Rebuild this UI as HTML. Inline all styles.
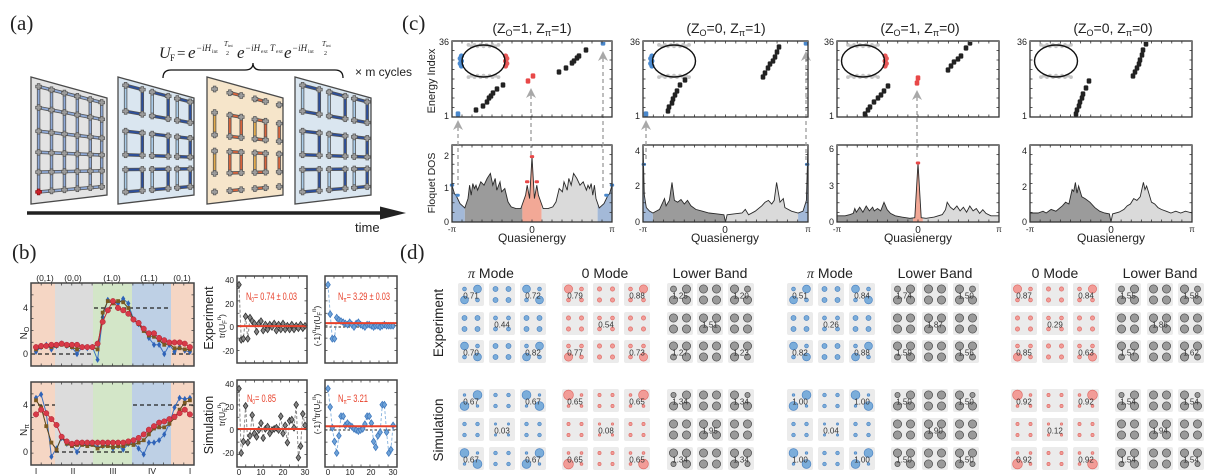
<!DOCTYPE html>
<html><head><meta charset="utf-8">
<style>
html,body{margin:0;padding:0;background:#fff;width:1208px;height:475px;overflow:hidden;}
svg{display:block;}
text{font-family:"Liberation Sans",sans-serif;fill:#222;}
.sf{font-family:"Liberation Serif",serif;}
.it{font-style:italic;}
.red{fill:#e8422c;}
.dn text{font-size:8px;text-anchor:middle;fill:#333;}
</style></head>
<body>
<svg id="s" width="1208" height="475" viewBox="0 0 1208 475" xmlns="http://www.w3.org/2000/svg">
<rect x="0" y="0" width="1208" height="475" fill="#fff"/>
<g id="shapes"></g>

<!-- panel labels -->
<text x="10" y="30" class="sf" font-size="21">(a)</text>
<text x="12" y="259" class="sf" font-size="21">(b)</text>
<text x="402" y="30" class="sf" font-size="21">(c)</text>
<text x="400" y="259" class="sf" font-size="21">(d)</text>

<!-- formula -->
<g class="sf">
<text x="159" y="58" class="sf it" font-size="16">U</text>
<text x="170" y="61" class="sf" font-size="9">F</text>
<text x="177" y="58" class="sf" font-size="15">=</text>
<text x="188" y="58" class="sf it" font-size="17">e</text>
<text x="196" y="51" class="sf it" font-size="9">−iH</text>
<text x="212" y="53" class="sf" font-size="5.5">int</text>
<text x="224" y="46" class="sf it" font-size="7">T</text>
<text x="228" y="47" class="sf" font-size="4.5">int</text>
<text x="226" y="55" class="sf" font-size="6">2</text>
<text x="237" y="58" class="sf it" font-size="17">e</text>
<text x="245" y="51" class="sf it" font-size="9">−iH</text>
<text x="261" y="53" class="sf" font-size="5.5">ext</text>
<text x="270" y="51" class="sf it" font-size="9">T</text>
<text x="276" y="53" class="sf" font-size="5.5">ext</text>
<text x="284" y="58" class="sf it" font-size="17">e</text>
<text x="292" y="51" class="sf it" font-size="9">−iH</text>
<text x="308" y="53" class="sf" font-size="5.5">int</text>
<text x="322" y="46" class="sf it" font-size="7">T</text>
<text x="326" y="47" class="sf" font-size="4.5">int</text>
<text x="324" y="55" class="sf" font-size="6">2</text>
</g>
<text x="355" y="76" font-size="12">× m cycles</text>
<text x="355" y="232" font-size="13">time</text>

<!-- panel b text -->
<g font-size="8.5" text-anchor="middle">
<text x="45" y="281">(0,1)</text><text x="73" y="281">(0,0)</text><text x="112" y="281">(1,0)</text><text x="149" y="281">(1,1)</text><text x="182" y="281">(0,1)</text>
<text x="36" y="474">I</text><text x="73" y="474">II</text><text x="113" y="474">III</text><text x="152" y="474">IV</text><text x="190" y="474">I</text>
</g>
<g font-size="9" text-anchor="end">
<text x="28" y="311">4</text><text x="28" y="357">0</text>
<text x="28" y="408">4</text><text x="28" y="455">0</text>
</g>
<text transform="translate(27,333) rotate(-90)" font-size="10" text-anchor="middle">N<tspan font-size="7" dy="2">O</tspan></text>
<text transform="translate(27,430) rotate(-90)" font-size="10" text-anchor="middle">N<tspan font-size="7" dy="2">π</tspan></text>

<g font-size="8" text-anchor="end">
<text x="234" y="283">40</text><text x="234" y="307">20</text><text x="234" y="330">0</text><text x="234" y="354">-20</text>
<text x="234" y="387">40</text><text x="234" y="410">20</text><text x="234" y="433">0</text><text x="234" y="456">-20</text>
</g>
<g font-size="8" text-anchor="middle">
<text x="239" y="475">0</text><text x="261" y="475">10</text><text x="283" y="475">20</text><text x="305" y="475">30</text>
<text x="328" y="475">0</text><text x="350" y="475">10</text><text x="371" y="475">20</text><text x="393" y="475">30</text>
</g>
<text transform="translate(213,318) rotate(-90)" font-size="12.5" text-anchor="middle">Experiment</text>
<text transform="translate(213,425) rotate(-90)" font-size="12.5" text-anchor="middle">Simulation</text>
<text transform="translate(225,326) rotate(-90)" font-size="8.5" text-anchor="middle">tr(U<tspan font-size="6" dy="2">F</tspan><tspan font-size="6" dy="-6">n</tspan><tspan dy="4">)</tspan></text>
<text transform="translate(225,414) rotate(-90)" font-size="8.5" text-anchor="middle">tr(U<tspan font-size="6" dy="2">F</tspan><tspan font-size="6" dy="-6">n</tspan><tspan dy="4">)</tspan></text>
<text transform="translate(320,326) rotate(-90)" font-size="8.5" text-anchor="middle">(-1)<tspan font-size="6" dy="-4">n</tspan><tspan dy="4">tr(U</tspan><tspan font-size="6" dy="2">F</tspan><tspan font-size="6" dy="-6">n</tspan><tspan dy="4">)</tspan></text>
<text transform="translate(320,414) rotate(-90)" font-size="8.5" text-anchor="middle">(-1)<tspan font-size="6" dy="-4">n</tspan><tspan dy="4">tr(U</tspan><tspan font-size="6" dy="2">F</tspan><tspan font-size="6" dy="-6">n</tspan><tspan dy="4">)</tspan></text>

<text x="246" y="300" font-size="11" class="red" textLength="51" lengthAdjust="spacingAndGlyphs">N<tspan font-size="7" dy="2">0</tspan><tspan dy="-2">= 0.74 ± 0.03</tspan></text>
<text x="338" y="300" font-size="11" class="red" textLength="52" lengthAdjust="spacingAndGlyphs">N<tspan font-size="7" dy="2">π</tspan><tspan dy="-2">= 3.29 ± 0.03</tspan></text>
<text x="247" y="402" font-size="11" class="red" textLength="29" lengthAdjust="spacingAndGlyphs">N<tspan font-size="7" dy="2">0</tspan><tspan dy="-2">= 0.85</tspan></text>
<text x="338" y="402" font-size="11" class="red" textLength="30" lengthAdjust="spacingAndGlyphs">N<tspan font-size="7" dy="2">π</tspan><tspan dy="-2">= 3.21</tspan></text>

<!-- panel c text -->
<g font-size="14" text-anchor="middle">
<text x="532" y="33">(Z<tspan font-size="9" dy="3">O</tspan><tspan dy="-3">=1, Z</tspan><tspan font-size="9" dy="3">π</tspan><tspan dy="-3">=1)</tspan></text>
<text x="726" y="33">(Z<tspan font-size="9" dy="3">O</tspan><tspan dy="-3">=0, Z</tspan><tspan font-size="9" dy="3">π</tspan><tspan dy="-3">=1)</tspan></text>
<text x="920" y="33">(Z<tspan font-size="9" dy="3">O</tspan><tspan dy="-3">=1, Z</tspan><tspan font-size="9" dy="3">π</tspan><tspan dy="-3">=0)</tspan></text>
<text x="1113" y="33">(Z<tspan font-size="9" dy="3">O</tspan><tspan dy="-3">=0, Z</tspan><tspan font-size="9" dy="3">π</tspan><tspan dy="-3">=0)</tspan></text>
</g>
<g font-size="9" text-anchor="end">
<text x="449" y="45">36</text><text x="449" y="119">1</text>
<text x="640" y="45">36</text><text x="640" y="119">1</text>
<text x="834" y="45">36</text><text x="834" y="119">1</text>
<text x="1027" y="45">36</text><text x="1027" y="119">1</text>
<text x="449" y="159">2</text><text x="449" y="191">1</text><text x="449" y="225">0</text>
<text x="640" y="154">4</text><text x="640" y="189">2</text><text x="640" y="225">0</text>
<text x="834" y="152">6</text><text x="834" y="189">3</text><text x="834" y="225">0</text>
<text x="1027" y="154">4</text><text x="1027" y="190">2</text><text x="1027" y="225">0</text>
</g>
<g font-size="8" text-anchor="middle">
<text x="452" y="232">-π</text><text x="532" y="233" font-size="10">0</text><text x="612" y="232">π</text>
<text x="643" y="232">-π</text><text x="725" y="233" font-size="10">0</text><text x="808" y="232">π</text>
<text x="837" y="232">-π</text><text x="918" y="233" font-size="10">0</text><text x="999" y="232">π</text>
<text x="1030" y="232">-π</text><text x="1111" y="233" font-size="10">0</text><text x="1192" y="232">π</text>
</g>
<g font-size="12" text-anchor="middle">
<text x="532" y="242">Quasienergy</text><text x="725" y="242">Quasienergy</text><text x="918" y="242">Quasienergy</text><text x="1111" y="242">Quasienergy</text>
</g>
<text transform="translate(435,81) rotate(-90)" font-size="11" text-anchor="middle">Energy Index</text>
<text transform="translate(435,183) rotate(-90)" font-size="10.5" text-anchor="middle">Floquet DOS</text>

<!-- panel d text -->
<g font-size="14" text-anchor="middle">
<text x="491" y="278"><tspan class="sf it">π</tspan> Mode</text>
<text x="605" y="278">0 Mode</text>
<text x="710" y="278">Lower Band</text>
<text x="830" y="278"><tspan class="sf it">π</tspan> Mode</text>
<text x="935" y="278">Lower Band</text>
<text x="1055" y="278">0 Mode</text>
<text x="1160" y="278">Lower Band</text>
</g>
<text transform="translate(443,323) rotate(-90)" font-size="13.5" text-anchor="middle">Experiment</text>
<text transform="translate(443,430) rotate(-90)" font-size="13.5" text-anchor="middle">Simulation</text>

<g class="dn">
<text x="471" y="298.5">0.71</text><text x="533" y="298.5">0.72</text><text x="502" y="327.5">0.44</text><text x="471" y="355.5">0.70</text><text x="533" y="355.5">0.82</text>
<text x="471" y="404.5">0.67</text><text x="533" y="404.5">0.67</text><text x="502" y="433.5">0.03</text><text x="471" y="462.5">0.67</text><text x="533" y="462.5">0.67</text>
<text x="575" y="298.5">0.79</text><text x="637" y="298.5">0.88</text><text x="606" y="327.5">0.54</text><text x="575" y="355.5">0.77</text><text x="637" y="355.5">0.73</text>
<text x="575" y="404.5">0.65</text><text x="637" y="404.5">0.65</text><text x="606" y="433.5">0.08</text><text x="575" y="462.5">0.65</text><text x="637" y="462.5">0.65</text>
<text x="680" y="298.5">1.25</text><text x="741" y="298.5">1.20</text><text x="710" y="327.5">1.51</text><text x="680" y="355.5">1.27</text><text x="741" y="355.5">1.23</text>
<text x="680" y="404.5">1.34</text><text x="741" y="404.5">1.34</text><text x="710" y="433.5">1.95</text><text x="680" y="462.5">1.34</text><text x="741" y="462.5">1.34</text>
<text x="800" y="298.5">0.51</text><text x="862" y="298.5">0.84</text><text x="831" y="327.5">0.26</text><text x="800" y="355.5">0.82</text><text x="862" y="355.5">0.88</text>
<text x="800" y="404.5">1.00</text><text x="862" y="404.5">1.00</text><text x="831" y="433.5">0.04</text><text x="800" y="462.5">1.00</text><text x="862" y="462.5">1.00</text>
<text x="904" y="298.5">1.74</text><text x="966" y="298.5">1.50</text><text x="935" y="327.5">1.87</text><text x="904" y="355.5">1.59</text><text x="966" y="355.5">1.56</text>
<text x="904" y="404.5">1.50</text><text x="966" y="404.5">1.50</text><text x="935" y="433.5">1.90</text><text x="904" y="462.5">1.50</text><text x="966" y="462.5">1.50</text>
<text x="1024" y="298.5">0.87</text><text x="1086" y="298.5">0.84</text><text x="1055" y="327.5">0.29</text><text x="1024" y="355.5">0.85</text><text x="1086" y="355.5">0.63</text>
<text x="1024" y="404.5">0.92</text><text x="1086" y="404.5">0.92</text><text x="1055" y="433.5">0.12</text><text x="1024" y="462.5">0.92</text><text x="1086" y="462.5">0.92</text>
<text x="1128" y="298.5">1.55</text><text x="1191" y="298.5">1.58</text><text x="1160" y="327.5">1.86</text><text x="1128" y="355.5">1.57</text><text x="1191" y="355.5">1.62</text>
<text x="1128" y="404.5">1.54</text><text x="1191" y="404.5">1.54</text><text x="1160" y="433.5">1.94</text><text x="1128" y="462.5">1.54</text><text x="1191" y="462.5">1.54</text>
</g>
</svg>
<script>
(function(){
const NS='http://www.w3.org/2000/svg';
const root=document.getElementById('shapes');
function el(t,a,p){const e=document.createElementNS(NS,t);for(const k in a)e.setAttribute(k,a[k]);(p||root).appendChild(e);return e;}
function L(x1,y1,x2,y2,s,w,o){const a={x1:x1,y1:y1,x2:x2,y2:y2,stroke:s,'stroke-width':w};if(o)for(const k in o)a[k]=o[k];return el('line',a);}
function R(x,y,w,h,f,o){const a={x:x,y:y,width:w,height:h,fill:f};if(o)for(const k in o)a[k]=o[k];return el('rect',a);}
function C(cx,cy,r,f,o){const a={cx:cx,cy:cy,r:r,fill:f};if(o)for(const k in o)a[k]=o[k];return el('circle',a);}
function pts(p){return p.map(q=>q[0].toFixed(1)+','+q[1].toFixed(1)).join(' ');}
function poly(p,o){const a={points:pts(p)};for(const k in o)a[k]=o[k];return el('polygon',a);}
function pl(p,o){const a={points:pts(p),fill:'none'};for(const k in o)a[k]=o[k];return el('polyline',a);}

/* ---------- panel (a) ---------- */
const quads=[{x:31,bg:'#e3e3e3',t:0},{x:118,bg:'#dae6f0',t:1},{x:207,bg:'#f6e5ca',t:2},{x:295,bg:'#dae6f0',t:1}];
const UV={0:[[.1,.27,.44,.61,.78,.93],[.06,.23,.42,.59,.75,.91]],1:[[.1,.32,.45,.66,.78,.95],[.05,.26,.42,.61,.73,.91]],2:[[.1,.3,.45,.63,.77,.95],[.08,.27,.45,.58,.76,.91]]};
quads.forEach(q=>{
  const m=(u,v)=>{const x=q.x+u*76,yt=77+u*21,yb=204-u*9;return [x,yt+v*(yb-yt)];};
  poly([m(0,0),m(1,0),m(1,1),m(0,1)],{fill:q.bg,stroke:'#4a4a4a','stroke-width':1.3});
  const us=UV[q.t][0],vs=UV[q.t][1];
  const site=(i,j)=>m(us[i],vs[j]);
  const edges=[];
  if(q.t==0){for(let j=0;j<6;j++)for(let i=0;i<5;i++)edges.push([i,j,i+1,j,'#8fa9d6']);for(let i=0;i<6;i++)for(let j=0;j<5;j++)edges.push([i,j,i,j+1,'#8fa9d6']);}
  if(q.t==1){for(const i of [0,2,4])for(let j=0;j<6;j++)edges.push([i,j,i+1,j,'#2c4f9c']);for(const j of [0,2,4])for(let i=0;i<6;i++)edges.push([i,j,i,j+1,(i%2==0)?'#a9cbe8':'#2c4f9c']);}
  if(q.t==2){for(const i of [1,3])for(let j=0;j<6;j++)edges.push([i,j,i+1,j,'#d8643c']);for(const j of [1,3])for(let i=0;i<6;i++)edges.push([i,j,i,j+1,(i==0||i==3)?'#e2aa4c':'#d8643c']);}
  edges.forEach(e=>{const a=site(e[0],e[1]),b=site(e[2],e[3]);L(a[0],a[1],b[0],b[1],'#555',3.4);L(a[0],a[1],b[0],b[1],e[4],1.8);});
  for(let i=0;i<6;i++)for(let j=0;j<6;j++){const s=site(i,j),x=s[0],y=s[1];const red=(q.t==0&&i==0&&j==5);const c=red?'#c8202a':'#9c9c9c';
    L(x-3.3,y,x+3.3,y,red?'#8a1010':'#555',3.4);L(x,y-3.3,x,y+3.3,red?'#8a1010':'#555',3.4);L(x-2.6,y,x+2.6,y,c,2);L(x,y-2.6,x,y+2.6,c,2);}
});
L(27,213,384,213,'#222',3.5);
poly([[380,206.5],[406,213],[380,219.5]],{fill:'#222'});
el('path',{d:'M163,78 Q163,70 171,70 L245,70 Q253,70 253,63 Q253,70 261,70 L335,70 Q343,70 343,78',fill:'none',stroke:'#111','stroke-width':1.3});

/* ---------- panel (b) large plots ---------- */
function bandPlot(y0,y1){
  const bands=[[31,55,'#f5d6c4'],[55,93,'#dcdcdc'],[93,132,'#d3e6c8'],[132,171,'#bed0e5'],[171,194,'#f5d6c4']];
  bands.forEach(b=>R(b[0],y0,b[1]-b[0],y1-y0,b[2]));
}
function frameB(y0,y1){
  R(31,y0,163,y1-y0,'none',{stroke:'#444','stroke-width':1.5});
  for(let k=1;k<16;k++){const x=31+k*163/16;L(x,y1,x,y1-2.5,'#444',0.8);L(x,y0,x,y0+2.5,'#444',0.8);}
  for(let k=1;k<7;k++){const y=y0+k*(y1-y0)/7;L(31,y,33.5,y,'#444',0.8);L(194,y,191.5,y,'#444',0.8);}
}
bandPlot(283,366);bandPlot(382,465);
const YT=v=>354-v*11.5, YB=v=>452-v*11.75;
const dash={'stroke-dasharray':'4,3'};
L(31,YT(0),93,YT(0),'#222',1.3,dash);L(94,YT(4),168,YT(4),'#222',1.3,dash);L(172,YT(0),194,YT(0),'#222',1.3,dash);
L(31,YB(4),55,YB(4),'#222',1.3,dash);L(55,YB(0),129,YB(0),'#222',1.3,dash);L(133,YB(4),194,YB(4),'#222',1.3,dash);
const xs=i=>36+i*5.13;
function series(data,Y,fill,lc,mk){
  const p=data.map((v,i)=>[xs(i),Y(v)]);
  pl(p,{stroke:lc,'stroke-width':1});
  p.forEach(q=>{
    if(mk=='c')C(q[0],q[1],2.7,fill,{stroke:'#a82030','stroke-width':0.5});
    else if(mk=='d')poly([[q[0],q[1]-3.2],[q[0]+2.1,q[1]],[q[0],q[1]+3.2],[q[0]-2.1,q[1]]],{fill:fill});
    else R(q[0]-1.9,q[1]-1.9,3.8,3.8,fill);
  });
}
const topBlue=[0.2,0.6,0.8,0.4,0.7,0.9,0.7,0.6,0.0,0.6,0.5,0.6,-0.5,3.2,4.7,4.5,4.4,4.8,4.4,3.0,2.6,2.2,1.4,0.8,0.8,0.0,0.8,0.2,0.6,0.3,0.2];
const topBr=[0.4,0.6,0.7,0.6,0.7,0.8,0.7,0.6,0.4,0.6,0.6,0.6,0.4,3.6,4.6,4.4,4.6,4.5,4.0,3.0,2.6,2.0,1.6,1.5,1.2,0.8,0.9,0.5,0.5,0.4,0.4];
const topRed=[0.6,0.7,0.7,0.8,0.8,0.9,0.8,0.8,0.8,0.6,0.6,0.6,0.9,2.8,3.8,4.6,4.0,3.8,3.5,3.0,2.7,2.2,1.8,1.8,1.4,1.2,1.0,1.0,1.0,0.9,0.6];
const botBlue=[4.6,4.9,3.3,-0.4,0.3,1.2,0.7,0.6,0.0,0.7,0.6,0.7,0.4,0.5,0.6,0.3,0.5,0.2,0.7,0.8,0.3,-0.2,0.8,0.8,1.0,1.5,2.4,3.8,4.6,4.5,4.6];
const botBr=[4.4,3.8,2.2,0.8,0.2,1.3,0.7,0.5,0.6,0.6,0.5,0.6,0.3,0.5,0.5,0.4,0.5,0.5,0.7,0.6,0.8,1.0,1.5,2.0,2.1,2.1,2.4,2.9,3.6,4.2,4.4];
const botRed=[3.2,3.6,3.3,2.8,2.3,1.3,0.9,0.7,0.8,0.8,0.8,0.8,0.8,0.8,0.8,0.8,0.8,0.8,0.9,1.0,1.2,1.5,1.9,2.2,2.5,2.6,2.8,3.0,3.3,3.6,3.2];
series(topBlue,YT,'#2f63b8','#3a6fc0','d');series(topBr,YT,'#7b5a22','#5a4418','s');series(topRed,YT,'#d83a48','#c02838','c');
series(botBlue,YB,'#2f63b8','#3a6fc0','d');series(botBr,YB,'#7b5a22','#5a4418','s');series(botRed,YB,'#d83a48','#c02838','c');
frameB(283,366);frameB(382,465);

/* ---------- panel (b) small plots ---------- */
function small(x0,x1,y0,y1,Y,X,data,blue,redv,zd){
  R(x0,y0,x1-x0,y1-y0,'#fff');
  if(zd)L(x0,Y(0),x1,Y(0),'#222',1,{'stroke-dasharray':'2.5,2'});
  const p=data.map((v,i)=>[X(i),Y(v)]);
  pl(p,{stroke:blue?'#8fb8e0':'#8a8a8a','stroke-width':1,'stroke-dasharray':'3,2'});
  p.forEach(q=>poly([[q[0],q[1]-3.3],[q[0]+2.3,q[1]],[q[0],q[1]+3.3],[q[0]-2.3,q[1]]],{fill:blue?'#6fa3d8':'#858585',stroke:blue?'#3f78bd':'#333','stroke-width':0.8}));
  L(x0,Y(redv),x1,Y(redv),'#e8422c',2);
  R(x0,y0,x1-x0,y1-y0,'none',{stroke:'#444','stroke-width':1.5});
  for(let k=1;k<8;k++){const x=x0+k*(x1-x0)/8;L(x,y1,x,y1-2.5,'#444',0.8);L(x,y0,x,y0+2.5,'#444',0.8);}
  for(let k=1;k<7;k++){const y=y0+k*(y1-y0)/7;L(x0,y,x0+2.5,y,'#444',0.8);L(x1,y,x1-2.5,y,'#444',0.8);}
}
const YE=v=>327-v*1.175, YS=v=>430-v*1.15;
const XL=n=>239+n*2.2, XR=n=>328+n*2.17;
const TLexp=[36,-11,-10,9,-10,8,5,3,-4,3,5,-3,2,-2,2,0,3,-3,2,-2,3,-2,1,-2,2,-2,1,-1,2,-1,1];
const TRexp=[36,11,-10,-10,8,6,5,4,3,2,4,2,0,3,4,2,1,0,2,2,1,0,1,1,0,1,2,1,1,1,1];
const BLsim=[36,-20,-10,21,-11,-5,13,-3,-6,0,6,-7,1,3,-3,0,1,2,0,12,-3,4,-11,8,9,2,22,-24,-14,14,4];
const BRsim=[36,20,2,-10,-20,-5,12,12,4,6,4,3,1,0,-1,0,1,5,12,12,6,-10,-15,-5,-2,22,22,-2,-20,-17,4];
small(237,307,276,363,YE,XL,TLexp,false,0.74,false);
small(325,397,276,363,YE,XR,TRexp,true,3.29,true);
small(237,307,380,467,YS,XL,BLsim,false,0.85,false);
small(325,397,380,467,YS,XR,BRsim,true,3.21,true);

/* ---------- panel (c) ---------- */
const CB='#a3b9d8',CD='#9b9b9b',CPk='#f2a896',CL='#dadada';
function interp(cp,t){for(let k=0;k<cp.length-1;k++){if(t>=cp[k][0]&&t<=cp[k+1][0]){const d=cp[k+1][0]-cp[k][0];const f=d?(t-cp[k][0])/d:0;return cp[k][1]+f*(cp[k+1][1]-cp[k][1]);}}return cp[cp.length-1][1];}
const panels=[
 {x0:452,x1:612,s:33.5,
  cp:[[0,1.1],[0.015,0.85],[0.03,0.75],[0.05,0.55],[0.08,0.42],[0.1,0.7],[0.11,1.1],[0.12,0.8],[0.13,1.15],[0.14,1.0],[0.15,1.1],[0.16,0.95],[0.18,1.2],[0.2,1.1],[0.22,1.3],[0.24,1.45],[0.255,1.1],[0.27,1.3],[0.28,0.95],[0.3,1.2],[0.31,0.9],[0.33,1.0],[0.35,0.6],[0.37,0.45],[0.4,0.4],[0.43,0.4],[0.46,0.8],[0.47,1.1],[0.485,0.7],[0.5,1.95],[0.515,0.7],[0.53,1.1],[0.54,0.8],[0.57,0.4],[0.6,0.4],[0.63,0.45],[0.65,0.6],[0.67,1.0],[0.69,0.9],[0.7,1.2],[0.72,0.95],[0.73,1.3],[0.745,1.1],[0.76,1.45],[0.78,1.3],[0.8,1.1],[0.82,1.2],[0.84,0.95],[0.85,1.1],[0.86,1.0],[0.87,1.15],[0.88,0.8],[0.89,1.1],[0.9,0.7],[0.92,0.42],[0.95,0.55],[0.97,0.75],[0.985,0.85],[1,1.1]],
  reg:[[0,.08,CB],[.08,.44,CD],[.44,.56,CPk],[.56,.91,CL],[.91,1,CB]],
  dd:[[0,1.1,'b'],[0.035,0.8,'b'],[0.965,0.8,'b'],[1,1.1,'b'],[0.5,1.95,'r'],[0.47,1.2,'r'],[0.53,1.2,'r']],
  top:[[458,114,'b'],[476,110],[483,106],[487,102],[489,98],[491,96],[493,93],[497,89],[503,85],[528,81,'r'],[533,76,'r'],[559,72],[566,68],[572,63],[574,61],[577,58],[579,56],[586,50],[603,43,'b']],
  ins:{cx:483.5,cy:61,b:1,r:1},
  arr:[[458,120,185],[531,88,158],[603,51,188]]},
 {x0:643,x1:808,s:18,
  cp:[[0,4.3],[0.008,1.5],[0.02,0.8],[0.04,0.6],[0.06,0.5],[0.1,0.7],[0.13,1.3],[0.14,0.9],[0.16,1.2],[0.176,2.2],[0.19,1.2],[0.21,1.1],[0.23,1.25],[0.25,1.0],[0.27,1.2],[0.29,0.9],[0.32,0.7],[0.36,0.6],[0.4,0.5],[0.45,0.45],[0.49,0.4],[0.5,0.0],[0.51,0.4],[0.55,0.45],[0.6,0.5],[0.62,0.7],[0.64,0.4],[0.68,0.6],[0.72,0.9],[0.74,1.1],[0.76,1.2],[0.78,1.0],[0.795,1.2],[0.81,2.2],[0.83,1.1],[0.85,1.3],[0.86,0.8],[0.9,0.6],[0.94,0.5],[0.97,0.6],[0.99,1.2],[1,4.3]],
  reg:[[0,.06,CB],[.06,.5,CD],[.5,.94,CL],[.94,1,CB]],
  dd:[[0.005,3.2,'b'],[0.995,3.2,'b']],
  top:[[646,114,'b'],[668,111],[669,107],[672,103],[673,99],[675,95],[677,91],[680,85],[685,80],[763,77],[765,73],[768,68],[770,64],[773,61],[775,57],[777,52],[779,47],[806,43,'b']],
  ins:{cx:674,cy:61,b:1,r:0},
  arr:[[646,120,162],[806,51,162]]},
 {x0:837,x1:999,s:12.3,
  cp:[[0,0.5],[0.05,0.5],[0.08,0.6],[0.1,0.7],[0.11,1.1],[0.12,0.8],[0.14,1.2],[0.16,0.8],[0.18,1.3],[0.2,0.9],[0.22,1.2],[0.23,0.9],[0.25,1.1],[0.27,0.9],[0.29,1.6],[0.31,1.0],[0.33,0.7],[0.36,0.5],[0.4,0.4],[0.45,0.3],[0.48,0.35],[0.5,4.8],[0.52,0.35],[0.55,0.3],[0.6,0.4],[0.65,0.6],[0.67,1.0],[0.68,1.6],[0.7,1.2],[0.72,1.0],[0.74,1.3],[0.76,0.9],[0.78,1.2],[0.8,0.8],[0.82,1.3],[0.84,0.9],[0.86,1.1],[0.88,0.7],[0.9,1.0],[0.92,0.7],[0.95,0.5],[1,0.5]],
  reg:[[0,.47,CD],[.47,.53,CPk],[.53,1,CL]],
  dd:[[0.5,4.8,'r']],
  top:[[865,114],[868,110],[870,107],[874,102],[878,98],[881,95],[884,91],[888,86],[917,83,'r'],[918,78,'r'],[948,70],[951,66],[954,62],[958,59],[961,56],[966,48],[970,43]],
  ins:{cx:863,cy:61,b:0,r:1},
  arr:[[917,90,160]]},
 {x0:1030,x1:1192,s:18,
  cp:[[0,0.5],[0.05,0.5],[0.08,0.6],[0.1,0.5],[0.13,0.7],[0.16,0.6],[0.2,0.9],[0.22,1.1],[0.24,1.0],[0.26,1.8],[0.27,1.7],[0.28,2.2],[0.29,1.6],[0.3,2.0],[0.32,1.4],[0.34,1.3],[0.37,1.1],[0.4,0.8],[0.43,0.6],[0.46,0.5],[0.49,0.45],[0.5,0.0],[0.51,0.45],[0.55,0.55],[0.58,0.7],[0.6,0.9],[0.62,1.0],[0.64,1.3],[0.66,1.2],[0.68,1.4],[0.7,2.2],[0.71,1.8],[0.72,2.0],[0.73,1.7],[0.75,1.1],[0.77,1.0],[0.79,0.8],[0.81,0.7],[0.84,0.6],[0.87,0.5],[0.9,0.6],[0.93,0.5],[0.96,0.6],[1,0.5]],
  reg:[[0,.5,CD],[.5,1,CL]],
  dd:[],
  top:[[1076,114],[1077,110],[1079,106],[1080,102],[1082,98],[1083,94],[1086,88],[1089,81],[1133,76],[1135,72],[1137,68],[1139,64],[1140,60],[1142,55],[1143,50],[1146,44]],
  ins:{cx:1056,cy:61,b:0,r:0},
  arr:[]}
];
function frameC(x0,y0,x1,y1){
  R(x0,y0,x1-x0,y1-y0,'none',{stroke:'#333','stroke-width':1.3});
  L(x0,y0,x1,y0,'#777',2);
  for(let k=1;k<16;k++){const x=x0+k*(x1-x0)/16;L(x,y1,x,y1-2.5,'#333',0.8);L(x,y0,x,y0+2.5,'#333',0.8);}
  for(let k=1;k<8;k++){const y=y0+k*(y1-y0)/8;L(x0,y,x0+2.5,y,'#333',0.8);L(x1,y,x1-2.5,y,'#333',0.8);}
}
panels.forEach(P=>{
  const X=t=>P.x0+t*(P.x1-P.x0), Y=v=>222-v*P.s;
  P.reg.forEach(r=>{
    const a=r[0],b=r[1];const p=[[X(a),Y(0)],[X(a),Y(interp(P.cp,a))]];
    P.cp.forEach(c=>{if(c[0]>a&&c[0]<b)p.push([X(c[0]),Y(c[1])]);});
    p.push([X(b),Y(interp(P.cp,b))],[X(b),Y(0)]);
    poly(p,{fill:r[2]});
  });
  pl(P.cp.map(c=>[X(c[0]),Y(c[1])]),{stroke:'#2a2a2a','stroke-width':0.9});
  P.dd.forEach(d=>{const x=X(d[0]),y=Y(d[1]);R(x-2.2,y-1.5,4.4,3,d[2]=='b'?'#4a88cc':'#e84848',{rx:1.2});});
  frameC(P.x0,145,P.x1,222);
  P.arr.forEach(a=>{
    L(a[0],a[1]+7,a[0],a[2],'#9c9c9c',1.3,{'stroke-dasharray':'4,3'});
    poly([[a[0],a[1]],[a[0]+5,a[1]+10],[a[0],a[1]+7],[a[0]-5,a[1]+10]],{fill:'#a8a8a8'});
  });
  const I=P.ins;
  for(let k=0;k<11;k++){const x=I.cx-15+k*3;C(x,I.cy-15.5+((k%2)?0.8:-0.6),1.9,'#c6c6c6');C(x,I.cy+15.5+((k%2)?-0.8:0.6),1.9,'#c6c6c6');}
  if(I.b){for(let k=0;k<5;k++)C(I.cx-22.5+(k%2?-0.8:0.4),I.cy-5+k*2.5,2.6,'#4a8ad0');}
  if(I.r){for(let k=0;k<5;k++)C(I.cx+22.5+(k%2?0.8:-0.4),I.cy-5+k*2.5,2.6,'#e85858');}
  el('ellipse',{cx:I.cx,cy:I.cy,rx:21.5,ry:16,fill:'none',stroke:'#111','stroke-width':1.4});
  P.top.forEach(d=>{const c=d[2]=='b'?'#4a88cc':(d[2]=='r'?'#e84848':'#222');R(d[0]-2.3,d[1]-2.6,4.6,5.2,c,{rx:1.3});});
  frameC(P.x0,41,P.x1,117);
});

/* ---------- panel (d) ---------- */
const GX=[[458,489,520],[562,593,624],[667,697,728],[787,818,849],[891,922,953],[1011,1042,1073],[1115,1147,1178]];
const GT='brgbgrg';
const RY=[[283,312,340],[389,418,447]];
const DP=[[6.5,6],[19.5,6],[6.5,17],[19.5,17]];
const COL={b:['#7badda','#4f86c4',0.7],r:['#f29c97','#e0706b',0.7],g:['#9a9a9a','#555',0.8]};
function radii(t,sim,r,c){
  const corner=(r!=1&&c!=1),center=(r==1&&c==1);
  const outer=(r==0?0:2)+(c==0?0:1);
  if(t=='b'){
    if(corner){const B=sim?4.4:3.9,s=sim?1.3:1.9;return (outer==0||outer==3)?[s,B,B,s]:[B,s,s,B];}
    if(center)return sim?[1.1,1.1,1.1,1.1]:[2,2,2,2];
    return sim?[1.8,1.8,1.8,1.8]:[2.5,2.5,2.5,2.5];
  }
  if(t=='r'){
    if(corner){const B=sim?4.9:4.1,s=sim?1.4:1.9;const a=[s,s,s,s];a[outer]=B;return a;}
    if(center)return sim?[1.2,1.2,1.2,1.2]:[1.9,1.9,1.9,1.9];
    return sim?[1.6,1.6,1.6,1.6]:[2.1,2.1,2.1,2.1];
  }
  if(corner){const a=[4.1,4.1,4.1,4.1];a[outer]=sim?2.6:3.0;return a;}
  return [4.1,4.1,4.1,4.1];
}
GX.forEach((gx,gi)=>{
  const t=GT[gi];
  for(let s=0;s<2;s++)for(let r=0;r<3;r++)for(let c=0;c<3;c++){
    const x=gx[c],y=RY[s][r];
    R(x,y,26,23,'#ebebeb',{rx:2});
    const rr=radii(t,s==1,r,c);const col=COL[t];
    DP.forEach((d,k)=>C(x+d[0],y+d[1],rr[k],col[0],{stroke:col[1],'stroke-width':col[2]}));
  }
});
})();
</script>
</body></html>
